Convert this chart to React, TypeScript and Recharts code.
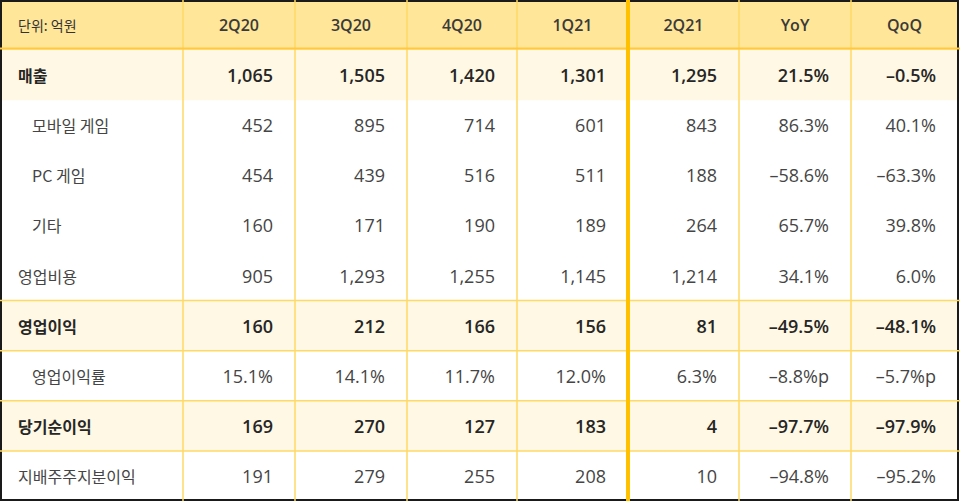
import React from 'react';
import { ComposedChart, XAxis, YAxis, Scatter, ReferenceArea, ReferenceLine } from 'recharts';

// ---- data ----
const unitLabel = '단위: 억원';
const columns = ['2Q20', '3Q20', '4Q20', '1Q21', '2Q21', 'YoY', 'QoQ'];
const rowLabels = ['매출', '모바일 게임', 'PC 게임', '기타', '영업비용', '영업이익', '영업이익률', '당기순이익', '지배주주지분이익'];
const sales = ['1,065', '1,505', '1,420', '1,301', '1,295', '21.5%', '–0.5%'];
const mobileGame = ['452', '895', '714', '601', '843', '86.3%', '40.1%'];
const pcGame = ['454', '439', '516', '511', '188', '–58.6%', '–63.3%'];
const others = ['160', '171', '190', '189', '264', '65.7%', '39.8%'];
const operatingCost = ['905', '1,293', '1,255', '1,145', '1,214', '34.1%', '6.0%'];
const operatingProfit = ['160', '212', '166', '156', '81', '–49.5%', '–48.1%'];
const operatingMargin = ['15.1%', '14.1%', '11.7%', '12.0%', '6.3%', '–8.8%p', '–5.7%p'];
const netIncome = ['169', '270', '127', '183', '4', '–97.7%', '–97.9%'];
const controllingIncome = ['191', '279', '255', '208', '10', '–94.8%', '–95.2%'];
const boldRows = ['매출', '영업이익', '당기순이익'];
const indentedRows = ['모바일 게임', 'PC 게임', '기타', '영업이익률'];

const rowValues = [sales, mobileGame, pcGame, others, operatingCost, operatingProfit, operatingMargin, netIncome, controllingIncome];

// ---- layout ----
const W = 960;
const H = 501;
const colEdges = [0, 183, 295, 407, 517, 628, 739, 851, 958];
const PAD_RIGHT = 22;
const KR_FONT = '"Noto Sans CJK KR", "Noto Sans", sans-serif';
const NUM_FONT = '"Open Sans", "Noto Sans", "Noto Sans CJK KR", sans-serif';

type Cell = {
  x: number;
  y: number;
  text: string;
  anchor: 'start' | 'middle' | 'end';
  bold: boolean;
  size: number;
  color: string;
  font: string;
};

const cells: Cell[] = [];
cells.push({ x: 18, y: 0.5, text: unitLabel, anchor: 'start', bold: false, size: 14, color: '#333', font: KR_FONT });
columns.forEach((c, i) => {
  cells.push({ x: (colEdges[i + 1] + colEdges[i + 2]) / 2, y: 0.5, text: c, anchor: 'middle', bold: true, size: 16, color: '#3a3a3a', font: NUM_FONT });
});
rowLabels.forEach((label, r) => {
  const bold = boldRows.includes(label);
  const indent = indentedRows.includes(label);
  const color = bold ? '#262626' : '#454545';
  cells.push({ x: indent ? 32 : 18, y: r + 1.5, text: label, anchor: 'start', bold, size: 16, color, font: KR_FONT });
  rowValues[r].forEach((v, c) => {
    cells.push({ x: colEdges[c + 2] - PAD_RIGHT, y: r + 1.5, text: v, anchor: 'end', bold, size: 18, color, font: NUM_FONT });
  });
});

const TextShape = (props: any) => {
  const p: Cell = props.payload;
  return (
    <text
      x={props.cx}
      y={props.cy}
      textAnchor={p.anchor}
      dominantBaseline="central"
      fontFamily={p.font}
      fontSize={p.size}
      fontWeight={p.bold ? 600 : 400}
      fill={p.color}
    >
      {p.text}
    </text>
  );
};

const highlightRows = rowLabels.map((l, i) => (boldRows.includes(l) ? i + 1 : -1)).filter((i) => i >= 0);

export default function App() {
  return (
    <div style={{ position: 'absolute', left: 0, top: 0, background: '#fff' }}>
      <ComposedChart width={W} height={H} margin={{ top: 0, right: 0, bottom: 0, left: 0 }} data={cells}>
        <XAxis type="number" dataKey="x" domain={[0, W]} hide />
        <YAxis type="number" dataKey="y" domain={[0, 10]} reversed hide />
        <ReferenceArea x1={0} x2={958} y1={0} y2={1} fill="#FFE699" fillOpacity={1} stroke="none" />
        {highlightRows.map((r) => (
          <ReferenceArea key={'h' + r} x1={0} x2={958} y1={r} y2={r + 1} fill="#FFF8E4" fillOpacity={1} stroke="none" />
        ))}
        {colEdges.slice(1, -1).map((e) =>
          e === 628 ? null : <ReferenceLine key={'v' + e} x={e} stroke="#FFD966" strokeWidth={1.5} />
        )}
        {[6, 7, 8, 9].map((y) => (
          <ReferenceLine key={'hl' + y} y={y} stroke="#FFD966" strokeWidth={1.5} />
        ))}
        <ReferenceLine y={0.97} stroke="#FFC83D" strokeWidth={2} />
        <ReferenceLine x={628} stroke="#FFC000" strokeWidth={4} />
        <ReferenceArea x1={1} x2={958} y1={0.02} y2={9.98} fill="none" stroke="#1a1a1a" strokeWidth={2} />
        <Scatter data={cells} dataKey="y" shape={<TextShape />} isAnimationActive={false} />
      </ComposedChart>
    </div>
  );
}
